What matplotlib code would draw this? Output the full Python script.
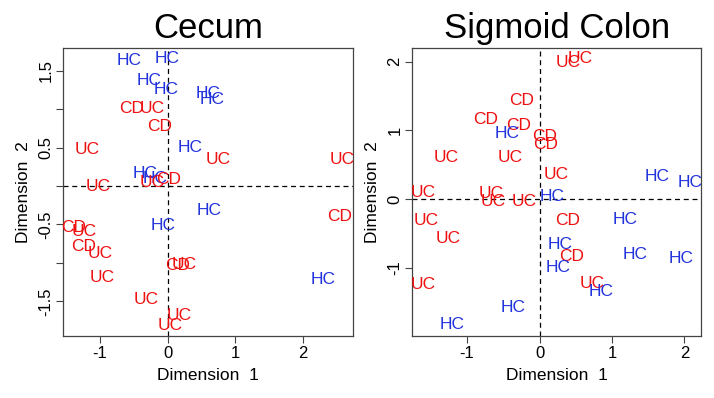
import matplotlib
matplotlib.use("Agg")
import matplotlib.pyplot as plt

plt.rcParams["font.family"] = ["Liberation Sans", "DejaVu Sans"]

RED = "#ee1111"
BLUE = "#2233dd"

# --- Cecum ---
cecum_labels = ["HC", "HC", "HC", "HC", "HC", "HC", "HC", "HC", "HC", "HC", "HC", "HC",
                "CD", "UC", "CD", "UC", "UC", "UC", "UC", "UC", "CD", "CD",
                "CD", "UC", "CD", "UC", "CD", "UC", "UC", "UC", "UC", "UC"]
cecum_x = [-0.56, -0.01, -0.27, -0.02, 0.60, 0.65, 0.34, -0.33, -0.18, 0.62, -0.06, 2.29,
           -0.53, -0.23, -0.11, -1.19, 0.75, 2.57, -1.02, -0.22, 0.02, 2.54,
           -1.38, -1.23, -1.24, -0.99, 0.15, 0.24, -0.96, -0.32, 0.17, 0.04]
cecum_y = [1.63, 1.66, 1.38, 1.26, 1.21, 1.13, 0.50, 0.17, 0.10, -0.32, -0.51, -1.21,
           1.01, 1.01, 0.78, 0.48, 0.35, 0.35, 0.00, 0.05, 0.08, -0.39,
           -0.54, -0.59, -0.78, -0.88, -1.04, -1.02, -1.19, -1.47, -1.68, -1.81]

# --- Sigmoid Colon ---
sigmoid_labels = ["UC", "UC", "CD", "CD", "CD", "HC", "CD", "CD", "UC", "UC", "UC",
                  "HC", "HC", "UC", "UC", "UC", "UC", "HC", "UC", "CD", "HC", "UC",
                  "HC", "CD", "HC", "HC", "HC", "UC", "UC", "HC", "HC", "HC"]
sigmoid_x = [0.40, 0.56, -0.25, -0.74, -0.29, -0.45, 0.07, 0.08, -1.29, -0.40, 0.23,
             1.62, 2.08, -1.60, -0.67, -0.64, -0.21, 0.18, -1.56, 0.39, 1.18, -1.26,
             0.28, 0.44, 1.32, 1.95, 0.25, -1.61, 0.73, 0.85, -0.37, -1.21]
sigmoid_y = [1.99, 2.05, 1.43, 1.15, 1.07, 0.95, 0.91, 0.80, 0.61, 0.61, 0.35,
             0.33, 0.24, 0.10, 0.08, -0.04, -0.04, 0.03, -0.31, -0.31, -0.29, -0.58,
             -0.66, -0.83, -0.81, -0.87, -0.99, -1.24, -1.23, -1.35, -1.58, -1.83]

colors = {"HC": BLUE, "CD": RED, "UC": RED}


def draw_panel(ax, labels, xs, ys, title, xlim, ylim, yticks, ylabels):
    for lab, x, y in zip(labels, xs, ys):
        ax.text(x, y, lab, color=colors[lab], fontsize=12.5, ha="center", va="center")
    ax.axhline(0, color="black", lw=0.9, ls=(0, (4, 3)))
    ax.axvline(0, color="black", lw=0.9, ls=(0, (4, 3)))
    ax.set_xlim(*xlim)
    ax.set_ylim(*ylim)
    ax.set_xticks([-1, 0, 1, 2])
    ax.set_xticklabels(["-1", "0", "1", "2"])
    ax.set_yticks(yticks)
    ax.set_yticklabels(ylabels, rotation=90, va="center")
    ax.tick_params(direction="out", length=5, width=0.8, labelsize=12, pad=2,
                   color="#444444")
    for s in ax.spines.values():
        s.set_color("#444444")
        s.set_linewidth(0.9)
    ax.set_xlabel("Dimension  1", fontsize=12.5, labelpad=5)
    ax.set_ylabel("Dimension  2", fontsize=12.5, labelpad=5)
    ax.set_title(title, fontsize=25, pad=7)


fig = plt.figure(figsize=(7.14, 3.98), dpi=100)
ax1 = fig.add_axes([0.0882, 0.156, 0.406, 0.724])
ax2 = fig.add_axes([0.577, 0.156, 0.405, 0.724])

draw_panel(ax1, cecum_labels, cecum_x, cecum_y, "Cecum",
           (-1.54, 2.73), (-1.95, 1.80),
           [-1.5, -1.0, -0.5, 0.0, 0.5, 1.0, 1.5],
           ["-1.5", "", "-0.5", "", "0.5", "", "1.5"])
draw_panel(ax2, sigmoid_labels, sigmoid_x, sigmoid_y, "Sigmoid Colon",
           (-1.76, 2.23), (-1.99, 2.20),
           [-1, 0, 1, 2], ["-1", "0", "1", "2"])

fig.savefig("out.png", dpi=100)
